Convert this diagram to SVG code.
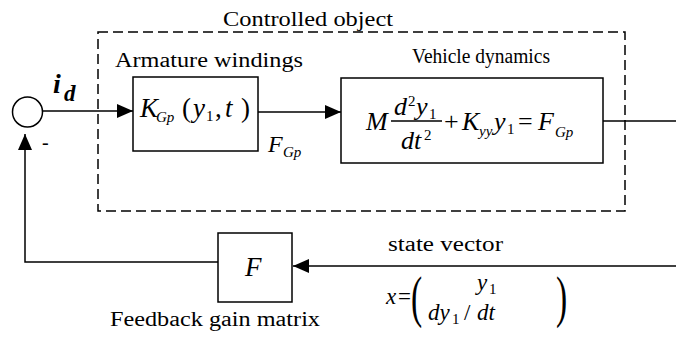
<svg xmlns="http://www.w3.org/2000/svg" width="676" height="350" viewBox="0 0 676 350">
<style>
.ln{stroke:#000;stroke-width:1.5;fill:none}
.box{stroke:#000;stroke-width:1.5;fill:#fff}
.dash{stroke:#000;stroke-width:1.5;fill:none;stroke-dasharray:10 5}
.lbl{font-family:"Liberation Serif","Times New Roman",serif;font-size:20px;fill:#000}
.m{font-family:"Liberation Serif","Times New Roman",serif;font-style:italic;font-size:26px;fill:#000}
.s{font-size:15px}
.r{font-style:normal}
.par{font-family:"Liberation Serif","Times New Roman",serif;font-size:56px;fill:#000}
</style>
<defs>
<marker id="ah" viewBox="0 0 16 14" refX="16" refY="7" markerWidth="16" markerHeight="14" markerUnits="userSpaceOnUse" orient="auto">
<path d="M0,0 L16,7 L0,14 Z" fill="#000"/>
</marker>
</defs>
<rect id="controlled-object" class="dash" x="98" y="32" width="527" height="179"/>
<text class="lbl" x="223" y="26" textLength="170" lengthAdjust="spacingAndGlyphs">Controlled object</text>
<g id="connectors">
<path class="ln" d="M43,111 H133" marker-end="url(#ah)"/>
<path class="ln" d="M258,112 H341" marker-end="url(#ah)"/>
<path class="ln" d="M603,121 H676"/>
<path class="ln" d="M676,266 H293" marker-end="url(#ah)"/>
<path class="ln" d="M218,262 H25 V134" marker-end="url(#ah)"/>
</g>
<g id="sum">
<circle class="box" cx="27.5" cy="112" r="15"/>
<text class="m" x="53" y="93" style="font-weight:bold;font-size:28px">i<tspan style="font-size:23px" x="64" y="101">d</tspan></text>
<text class="lbl" x="42" y="149">-</text>
</g>
<g id="armature">
<text class="lbl" x="115" y="67" textLength="188" lengthAdjust="spacingAndGlyphs">Armature windings</text>
<rect class="box" x="133" y="77" width="125" height="74"/>
<text class="m" y="117" style="font-size:27px"><tspan x="140">K</tspan><tspan class="s" x="156" y="122">Gp</tspan><tspan class="r" x="182" y="117">(</tspan><tspan x="193">y</tspan><tspan class="s r" x="206" y="121">1</tspan><tspan class="r" x="215" y="117">,</tspan><tspan x="225">t</tspan><tspan class="r" x="241">)</tspan></text>
<text class="m" x="268" y="152" style="font-size:24px">F<tspan class="s" x="283" y="157">Gp</tspan></text>
</g>
<g id="vehicle">
<text class="lbl" x="412" y="63" textLength="138" lengthAdjust="spacingAndGlyphs">Vehicle dynamics</text>
<rect class="box" x="341" y="78" width="262" height="85"/>
<text class="m" x="366" y="130">M</text>
<text class="m" x="394" y="115">d<tspan class="s r" x="408" y="106">2</tspan><tspan x="416" y="115">y</tspan><tspan class="s r" x="429" y="119">1</tspan></text>
<line class="ln" x1="391" y1="121" x2="442" y2="121"/>
<text class="m" x="401" y="149">dt<tspan class="s r" x="424" y="140">2</tspan></text>
<text class="m" y="130"><tspan class="r" x="444">+</tspan><tspan x="462">K</tspan><tspan class="s" x="479" y="136">yy</tspan><tspan x="494" y="130">y</tspan><tspan class="s r" x="507" y="134">1</tspan><tspan class="r" x="518" y="130">=</tspan><tspan x="538">F</tspan><tspan class="s" x="555" y="137">Gp</tspan></text>
</g>
<g id="feedback">
<rect class="box" x="218" y="233" width="74" height="69"/>
<text class="m" x="245" y="276" style="font-size:27px">F</text>
<text class="lbl" x="110" y="326" textLength="210" lengthAdjust="spacingAndGlyphs">Feedback gain matrix</text>
</g>
<g id="state">
<text class="lbl" x="388" y="251" textLength="115" lengthAdjust="spacingAndGlyphs">state vector</text>
<text class="m" x="386" y="304" style="font-size:23px">x<tspan class="r" x="398">=</tspan></text>
<text class="par" transform="translate(411,316) scale(0.6,1)">(</text>
<text class="par" transform="translate(556,316) scale(0.6,1)">)</text>
<text class="m" x="477" y="290" style="font-size:23px">y<tspan class="s r" x="489" y="294">1</tspan></text>
<text class="m" x="428" y="320" style="font-size:23px">dy<tspan class="s r" x="452" y="324">1</tspan><tspan class="r" x="464" y="320">/</tspan><tspan x="477">dt</tspan></text>
</g>
</svg>
